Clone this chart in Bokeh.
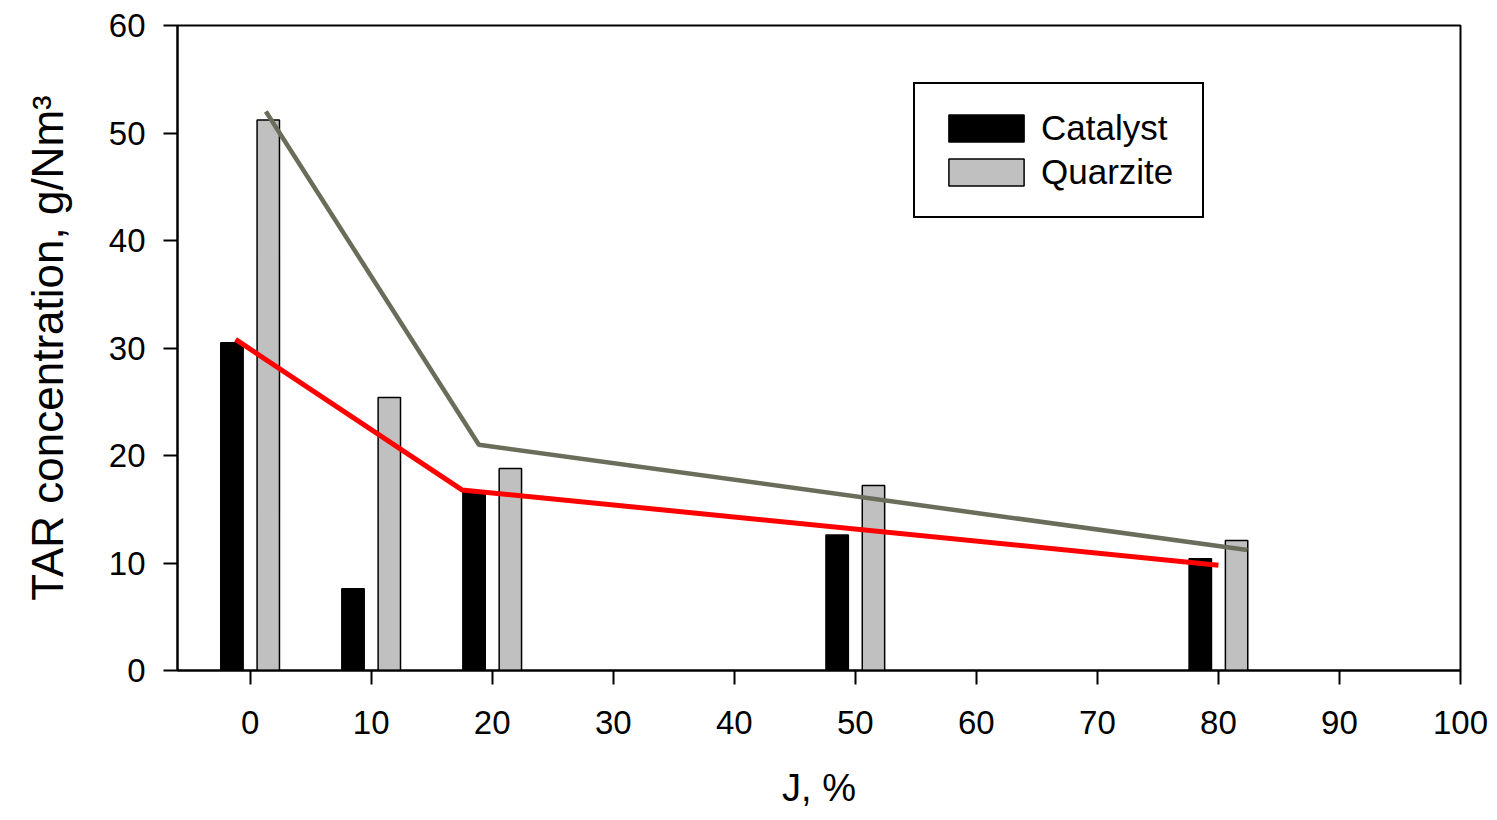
from bokeh.plotting import figure
from bokeh.models import ColumnDataSource, Legend, LegendItem, FixedTicker, Range1d
from bokeh.transform import dodge
from bokeh.embed import file_html
from bokeh.resources import INLINE

# ---- data ----
j_values = [0, 10, 20, 50, 80]
catalyst = [30.5, 7.6, 16.7, 12.6, 10.4]
quarzite = [51.2, 25.4, 18.8, 17.2, 12.1]

catalyst_trend_x = [-1.2, 17.5, 80.0]
catalyst_trend_y = [30.8, 16.8, 9.8]
quarzite_trend_x = [1.3, 18.9, 82.4]
quarzite_trend_y = [52.0, 21.0, 11.2]

x_ticks = list(range(0, 101, 10))
y_ticks = list(range(0, 61, 10))

FONT = "Liberation Sans"

src = ColumnDataSource(dict(j=j_values, catalyst=catalyst, quarzite=quarzite))

p = figure(width=1489, height=812,
           x_range=Range1d(-6, 100), y_range=Range1d(0, 60),
           output_backend="svg", toolbar_location=None,
           min_border_left=177, min_border_right=29,
           min_border_top=25, min_border_bottom=142)

p.grid.visible = False
p.background_fill_color = "white"
p.border_fill_color = "white"
p.outline_line_color = "black"
p.outline_line_width = 2
p.outline_line_alpha = 1

r_cat = p.vbar(x=dodge("j", -1.5, range=p.x_range), top="catalyst", width=1.85,
               source=src, fill_color="black", line_color="black", line_width=1.5)
r_qua = p.vbar(x=dodge("j", 1.5, range=p.x_range), top="quarzite", width=1.85,
               source=src, fill_color="#c0c0c0", line_color="black", line_width=1.5)

p.line(quarzite_trend_x, quarzite_trend_y, line_color="#6b6d5b", line_width=4.5)
p.line(catalyst_trend_x, catalyst_trend_y, line_color="#ff0000", line_width=5)

for ax in (p.xaxis[0], p.yaxis[0]):
    ax.axis_line_width = 2
    ax.axis_line_color = "black"
    ax.major_tick_line_width = 2
    ax.major_tick_line_color = "black"
    ax.major_tick_out = 14
    ax.major_tick_in = 0
    ax.minor_tick_out = 0
    ax.minor_tick_in = 0
    ax.major_label_text_font = FONT
    ax.major_label_text_color = "black"
    ax.axis_label_text_font = FONT
    ax.axis_label_text_font_style = "normal"
    ax.axis_label_text_color = "black"

p.xaxis.ticker = FixedTicker(ticks=x_ticks)
p.yaxis.ticker = FixedTicker(ticks=y_ticks)
p.xaxis.major_label_text_font_size = "33px"
p.yaxis.major_label_text_font_size = "33px"
p.xaxis.major_label_standoff = 26
p.yaxis.major_label_standoff = 18

p.xaxis.axis_label = "J, %"
p.xaxis.axis_label_text_font_size = "38px"
p.xaxis.axis_label_standoff = 30
p.yaxis.axis_label = "TAR concentration, g/Nm³"
p.yaxis.axis_label_text_font_size = "44px"
p.yaxis.axis_label_standoff = 34

legend = Legend(items=[LegendItem(label="Catalyst", renderers=[r_cat]),
                       LegendItem(label="Quarzite", renderers=[r_qua])],
                location=(736, 452), padding=24, spacing=4,
                glyph_width=94, glyph_height=34, label_height=34,
                label_width=137, label_standoff=8, label_text_font=FONT,
                label_text_font_size="35px", label_text_color="black",
                border_line_color="black", border_line_width=2,
                border_line_alpha=1,
                background_fill_color="white", background_fill_alpha=1,
                margin=0)
p.add_layout(legend, "center")

open("out.html", "w").write(file_html(p, INLINE))
